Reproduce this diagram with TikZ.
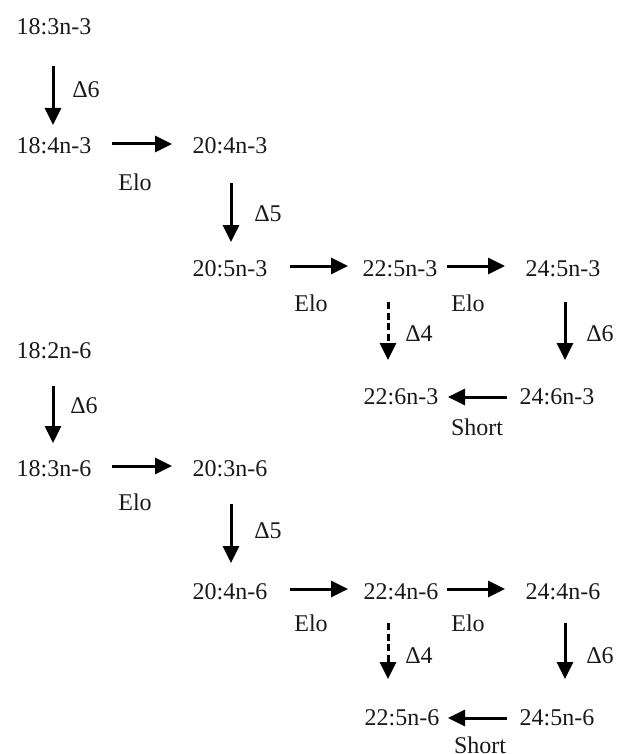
\documentclass[tikz,border=0pt]{standalone}
\usepackage{fontspec}
\setmainfont{Liberation Serif}
\usetikzlibrary{arrows.meta}
\begin{document}
\begin{tikzpicture}[x=1pt,y=-1pt,
  every node/.style={inner sep=0pt,outer sep=0pt,text height=17pt,text depth=0pt,
    font=\fontsize{24}{28}\selectfont,text=black!90},
  arr/.style={line width=3pt,-{Triangle[length=17pt,width=16pt]}},
  darr/.style={arr,dash pattern=on 7pt off 3.5pt},
  lbl/.style={anchor=center}]
\useasboundingbox (0,0) rectangle (616,754);
% n-3 series
\node (a1) at (54,26) {18:3n-3};
\node (b1) at (54,145) {18:4n-3};
\node (b2) at (230,145) {20:4n-3};
\node (c2) at (230,268) {20:5n-3};
\node (c3) at (400,268) {22:5n-3};
\node (c4) at (563,268) {24:5n-3};
\node (d3) at (401,396) {22:6n-3};
\node (d4) at (557,396) {24:6n-3};
% n-6 series
\node (e1) at (54,350) {18:2n-6};
\node (f1) at (54,468) {18:3n-6};
\node (f2) at (230,468) {20:3n-6};
\node (g2) at (230,591) {20:4n-6};
\node (g3) at (401,591) {22:4n-6};
\node (g4) at (563,591) {24:4n-6};
\node (h3) at (402,717) {22:5n-6};
\node (h4) at (557,717) {24:5n-6};
% labels
\node[lbl] (l1) at (86,89) {Δ6};
\node[lbl] (l2) at (135,182) {Elo};
\node[lbl] (l3) at (268,213) {Δ5};
\node[lbl] (l4) at (311,303) {Elo};
\node[lbl] (l5) at (468,303) {Elo};
\node[lbl] (l6) at (419,333) {Δ4};
\node[lbl] (l7) at (600,333) {Δ6};
\node[lbl] (l8) at (477,427) {Short};
\node[lbl] (m1) at (84,405) {Δ6};
\node[lbl] (m2) at (135,502) {Elo};
\node[lbl] (m3) at (268,530) {Δ5};
\node[lbl] (m4) at (311,623) {Elo};
\node[lbl] (m5) at (468,623) {Elo};
\node[lbl] (m6) at (419,655) {Δ4};
\node[lbl] (m7) at (600,655) {Δ6};
\node[lbl] (m8) at (480,745) {Short};
% connectors n-3
\draw[arr] ([xshift=-1pt,yshift=-40pt]a1.center) -- ([xshift=-1pt,yshift=20pt]b1.center);
\draw[arr] ([xshift=58pt,yshift=1pt]b1.center) -- ([xshift=-58pt,yshift=1pt]b2.center);
\draw[arr] ([xshift=1pt,yshift=-38pt]b2.center) -- ([xshift=1pt,yshift=26pt]c2.center);
\draw[arr] ([xshift=60pt,yshift=2pt]c2.center) -- ([xshift=-52pt,yshift=2pt]c3.center);
\draw[arr] ([xshift=47pt,yshift=2pt]c3.center) -- ([xshift=-58pt,yshift=2pt]c4.center);
\draw[darr] ([xshift=-12pt,yshift=-34pt]c3.center) -- ([xshift=-13pt,yshift=36pt]d3.center);
\draw[arr] ([xshift=2pt,yshift=-34pt]c4.center) -- ([xshift=8pt,yshift=36pt]d4.center);
\draw[arr] ([xshift=-50pt,yshift=-1pt]d4.center) -- ([xshift=47pt,yshift=-1pt]d3.center);
% connectors n-6
\draw[arr] ([xshift=-1pt,yshift=-36pt]e1.center) -- ([xshift=-1pt,yshift=25pt]f1.center);
\draw[arr] ([xshift=58pt,yshift=2pt]f1.center) -- ([xshift=-58pt,yshift=2pt]f2.center);
\draw[arr] ([xshift=1pt,yshift=-36pt]f2.center) -- ([xshift=1pt,yshift=28pt]g2.center);
\draw[arr] ([xshift=60pt,yshift=2pt]g2.center) -- ([xshift=-53pt,yshift=2pt]g3.center);
\draw[arr] ([xshift=46pt,yshift=2pt]g3.center) -- ([xshift=-58pt,yshift=2pt]g4.center);
\draw[darr] ([xshift=-13pt,yshift=-32pt]g3.center) -- ([xshift=-14pt,yshift=38pt]h3.center);
\draw[arr] ([xshift=2pt,yshift=-32pt]g4.center) -- ([xshift=8pt,yshift=38pt]h4.center);
\draw[arr] ([xshift=-50pt,yshift=-1pt]h4.center) -- ([xshift=46pt,yshift=-1pt]h3.center);
\end{tikzpicture}
\end{document}
